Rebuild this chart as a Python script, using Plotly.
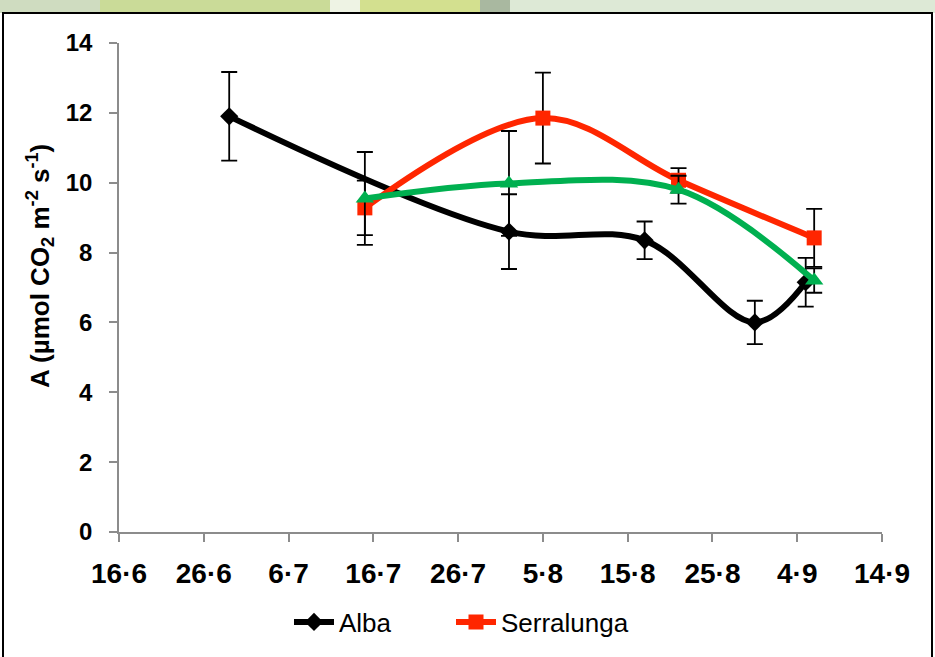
import plotly.graph_objects as go

# ---- data ----
alba_dates = ["2012-06-29", "2012-08-01", "2012-08-17", "2012-08-30", "2012-09-05"]
alba_vals = [11.9, 8.6, 8.35, 6.0, 7.15]
alba_err = [1.27, 1.07, 0.54, 0.62, 0.7]

serr_dates = ["2012-07-15", "2012-08-05", "2012-08-21", "2012-09-06"]
serr_vals = [9.28, 11.85, 10.07, 8.42]
serr_err = [0.78, 1.3, 0.35, 0.83]

third_dates = ["2012-07-15", "2012-08-01", "2012-08-21", "2012-09-06"]
third_vals = [9.55, 9.98, 9.8, 7.2]
third_err = [1.33, 1.5, 0.4, 0.35]

tick_dates = ["2012-06-16", "2012-06-26", "2012-07-06", "2012-07-16", "2012-07-26",
              "2012-08-05", "2012-08-15", "2012-08-25", "2012-09-04", "2012-09-14"]
tick_labels = ["16·6", "26·6", "6·7", "16·7", "26·7", "5·8", "15·8", "25·8", "4·9", "14·9"]
y_ticks = [0, 2, 4, 6, 8, 10, 12, 14]
y_title = "<b>A (µmol CO<sub>2</sub> m<sup>-2</sup> s<sup>-1</sup>)</b>"

W, H = 935, 657
L, R, T, B = 119, 882, 43, 532          # plot area in pixels
PW, PH = R - L, B - T

def px(x):
    return (x - L) / PW

def py(y):
    return (B - y) / PH

def err(arr):
    return dict(type="data", array=arr, visible=True, color="black", thickness=1.8, width=8)

fig = go.Figure()
fig.add_trace(go.Scatter(
    x=alba_dates, y=alba_vals, name="Alba", mode="lines+markers", legend="legend",
    line=dict(color="black", width=6, shape="spline", smoothing=1),
    marker=dict(symbol="diamond", size=14, color="black"),
    error_y=err(alba_err)))
fig.add_trace(go.Scatter(
    x=serr_dates, y=serr_vals, name="Serralunga", mode="lines+markers", legend="legend2",
    line=dict(color="#ff2600", width=6, shape="spline", smoothing=1),
    marker=dict(symbol="square", size=15, color="#ff2600"),
    error_y=err(serr_err)))
fig.add_trace(go.Scatter(
    x=third_dates, y=third_vals, name="Serie 3", mode="lines+markers", showlegend=False,
    line=dict(color="#00b050", width=6, shape="spline", smoothing=1),
    marker=dict(symbol="triangle-up", size=16, color="#00b050"),
    error_y=err(third_err)))

shapes = []
# decorative strip at top of the slide
strip = [(0, 100, "#cfdcc0"), (100, 330, "#cadb98"), (330, 360, "#eef3e4"),
         (360, 480, "#d3e08f"), (480, 510, "#a9b8a0"), (510, 935, "#dde9d6")]
for x0, x1, c in strip:
    shapes.append(dict(type="rect", xref="paper", yref="paper",
                       x0=px(x0), x1=px(x1), y0=py(13), y1=py(0),
                       fillcolor=c, line=dict(width=0), layer="below"))
shapes.append(dict(type="rect", xref="paper", yref="paper",
                   x0=px(3), x1=px(932), y0=py(670), y1=py(13),
                   line=dict(color="black", width=2), fillcolor="rgba(0,0,0,0)", layer="below"))

legend_common = dict(orientation="h", yanchor="middle", xanchor="left", itemwidth=40,
                     font=dict(size=26, family="Liberation Sans, Arial", color="black"),
                     bgcolor="rgba(0,0,0,0)")

fig.update_layout(
    width=W, height=H,
    margin=dict(l=L, r=W - R, t=T, b=H - B, autoexpand=False),
    paper_bgcolor="white", plot_bgcolor="white",
    font=dict(family="Liberation Sans, Arial", color="black"),
    shapes=shapes,
    annotations=[dict(text=y_title, xref="paper", yref="paper", x=px(40), y=py(266),
                      xanchor="center", yanchor="middle", textangle=-90, showarrow=False,
                      font=dict(size=26, family="Liberation Sans, Arial", color="black"))],
    xaxis=dict(type="date", range=["2012-06-16", "2012-09-14"],
               tickvals=tick_dates, ticktext=tick_labels,
               tickfont=dict(size=28, family="Liberation Sans, Arial", weight="bold"),
               showgrid=False, zeroline=False, showline=True, linecolor="#8c8c8c", linewidth=1.5,
               ticks="outside", tickcolor="#8c8c8c", ticklen=8, tickwidth=1.5,
               ticklabelstandoff=8, automargin=False),
    yaxis=dict(range=[0, 14], tickvals=y_ticks,
               tickfont=dict(size=24, family="Liberation Sans, Arial", weight="bold"),
               showgrid=False, zeroline=False, showline=True, linecolor="#8c8c8c", linewidth=1.5,
               ticks="outside", tickcolor="#8c8c8c", ticklen=8, tickwidth=1.5,
               ticklabelstandoff=12, automargin=False),
    legend=dict(x=px(289), y=py(622), **legend_common),
    legend2=dict(x=px(451), y=py(622), **legend_common),
)

fig.write_html("out.html", post_script="document.body.style.margin='0px';",
               config={"displayModeBar": False})
